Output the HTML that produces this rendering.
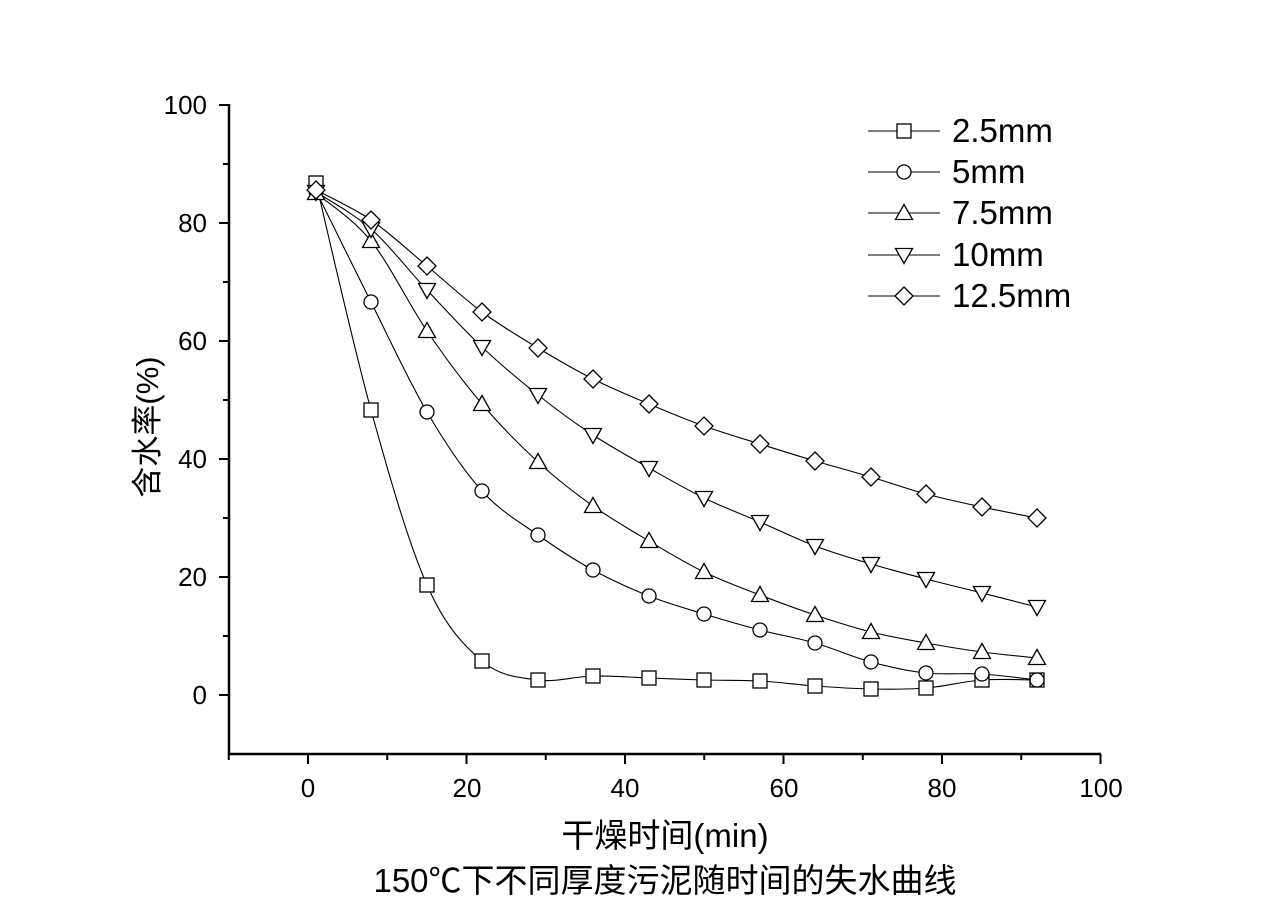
<!DOCTYPE html>
<html><head><meta charset="utf-8"><style>
body{margin:0;background:#fff;}
svg text{font-family:"Liberation Sans","Noto Sans CJK SC",sans-serif;fill:#000;}
</style></head><body>
<svg id="s" width="1280" height="905" xmlns="http://www.w3.org/2000/svg">
<rect width="1280" height="905" fill="#fff"/>
<g stroke="#000" stroke-width="2.5" fill="none">
<line x1="229" y1="104" x2="229" y2="755"/>
<line x1="228" y1="754" x2="1101" y2="754"/>
</g>
<g id="ticks" stroke="#000" stroke-width="2"></g>
<g font-size="26" text-anchor="end">
<text x="207" y="114">100</text><text x="207" y="232">80</text><text x="207" y="350">60</text><text x="207" y="468">40</text><text x="207" y="586">20</text><text x="207" y="704">0</text>
</g>
<g font-size="26" text-anchor="middle">
<text x="308" y="797">0</text><text x="467" y="797">20</text><text x="625" y="797">40</text><text x="784" y="797">60</text><text x="942" y="797">80</text><text x="1101" y="797">100</text>
</g>
<text x="665" y="847" font-size="33" text-anchor="middle">干燥时间(min)</text>
<text x="665" y="892" font-size="33" text-anchor="middle">150℃下不同厚度污泥随时间的失水曲线</text>
<text transform="translate(158,427) rotate(-90)" font-size="31" text-anchor="middle">含水率(%)</text>
<g id="curves" stroke="#000" stroke-width="1.1" fill="none"></g>
<g id="marks" stroke="#000" stroke-width="1.3" fill="#fff"></g>
<g font-size="33">
<text x="952" y="142">2.5mm</text><text x="952" y="183">5mm</text><text x="952" y="224">7.5mm</text><text x="952" y="266">10mm</text><text x="952" y="307">12.5mm</text>
</g>
</svg>
<script>
var NS="http://www.w3.org/2000/svg";
function el(p,t,a){var e=document.createElementNS(NS,t);for(var k in a)e.setAttribute(k,a[k]);document.getElementById(p).appendChild(e);return e;}
for(var v=0;v<=100;v+=10){var y=695-v*5.9;el("ticks","line",{x1:229,x2:v%20==0?219:223,y1:y,y2:y});}
for(var v=-10;v<=100;v+=10){var x=308+v*7.925;el("ticks","line",{y1:754,y2:v%20==0?764:760,x1:x,x2:x});}
var xs=[316,371,427,482,538,593,649,704,760,815,871,926,982,1037];
var D=[
[183,410,585,661,680,676,678,680,681,686,689,688,680,680],
[191,302,412,491,535,570,596,614,630,643,662,673,674,680],
[193,241,331,404,462,506,541,572,595,615,632,643,652,658],
[192,229,290,347,395,435,468,498,522,546,564,579,593,607],
[190,220,266,312,348,379,404,426,444,461,477,494,507,518]];
function path(P){var d="M"+P[0][0]+","+P[0][1];for(var i=0;i<P.length-1;i++){var p0=P[Math.max(i-1,0)],p1=P[i],p2=P[i+1],p3=P[Math.min(i+2,P.length-1)];
d+=" C"+(p1[0]+(p2[0]-p0[0])/6)+","+(p1[1]+(p2[1]-p0[1])/6)+" "+(p2[0]-(p3[0]-p1[0])/6)+","+(p2[1]-(p3[1]-p1[1])/6)+" "+p2[0]+","+p2[1];}return d;}
function mark(k,x,y){var r=7;
if(k==0)el("marks","rect",{x:x-r,y:y-r,width:2*r,height:2*r});
else if(k==1)el("marks","circle",{cx:x,cy:y,r:r});
else if(k==2)el("marks","polygon",{points:(x)+","+(y-8.5)+" "+(x+8.5)+","+(y+6.5)+" "+(x-8.5)+","+(y+6.5)});
else if(k==3)el("marks","polygon",{points:(x)+","+(y+8.5)+" "+(x+8.5)+","+(y-6.5)+" "+(x-8.5)+","+(y-6.5)});
else el("marks","polygon",{points:x+","+(y-9)+" "+(x+9)+","+y+" "+x+","+(y+9)+" "+(x-9)+","+y});}
var ly=[131,172,213,255,296];
for(var k=0;k<5;k++){var P=xs.map(function(x,i){return [x,D[k][i]];});
el("curves","path",{d:path(P)});
el("curves","line",{x1:868,x2:940,y1:ly[k],y2:ly[k]});
P.forEach(function(p){mark(k,p[0],p[1]);});mark(k,904,ly[k]);}
</script>
</body></html>
